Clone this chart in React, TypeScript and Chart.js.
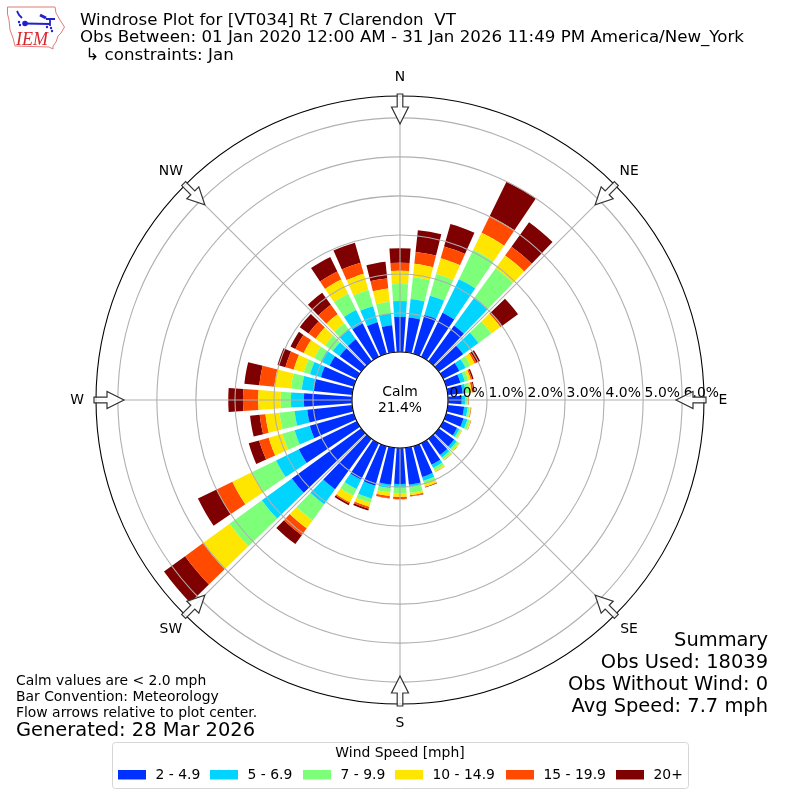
import React, { useEffect, useRef } from "react";
import { Chart, registerables } from "chart.js";

Chart.register(...registerables);

// Wind speed bins, share of observations (%), for directions 0, 10, ... 350 degrees
const directions = [0, 10, 20, 30, 40, 50, 60, 70, 80, 90, 100, 110, 120, 130, 140, 150, 160, 170, 180, 190, 200, 210, 220, 230, 240, 250, 260, 270, 280, 290, 300, 310, 320, 330, 340, 350];
const bin2to5 = [0.905, 0.897, 1.038, 1.256, 1.128, 0.769, 0.462, 0.379, 0.385, 0.351, 0.421, 0.462, 0.397, 0.487, 0.513, 0.615, 0.821, 0.949, 0.923, 0.949, 1.051, 1.038, 1.6, 2.195, 1.654, 1.174, 1.159, 1.231, 1.0, 0.879, 0.777, 0.679, 0.692, 0.949, 0.844, 0.697];
const bin5to7 = [0.403, 0.474, 0.513, 0.959, 0.887, 0.487, 0.179, 0.121, 0.077, 0.085, 0.092, 0.103, 0.064, 0.077, 0.077, 0.09, 0.103, 0.051, 0.095, 0.09, 0.346, 0.269, 0.474, 0.949, 0.649, 0.405, 0.326, 0.333, 0.3, 0.29, 0.249, 0.223, 0.308, 0.385, 0.428, 0.303];
const bin7to10 = [0.436, 0.559, 0.577, 0.836, 0.926, 0.41, 0.136, 0.09, 0.103, 0.051, 0.051, 0.064, 0.051, 0.064, 0.062, 0.077, 0.09, 0.162, 0.144, 0.115, 0.115, 0.19, 0.51, 1.023, 0.682, 0.326, 0.387, 0.264, 0.277, 0.164, 0.192, 0.244, 0.197, 0.462, 0.431, 0.3];
const bin10to15 = [0.341, 0.349, 0.421, 0.487, 0.408, 0.282, 0.121, 0.064, 0.051, 0.033, 0.026, 0.026, 0.021, 0.023, 0.023, 0.033, 0.064, 0.059, 0.087, 0.09, 0.103, 0.19, 0.251, 0.841, 0.564, 0.364, 0.364, 0.574, 0.428, 0.269, 0.3, 0.297, 0.29, 0.408, 0.431, 0.341];
const bin15to20 = [0.205, 0.305, 0.315, 0.477, 0.279, 0.051, 0.051, 0.038, 0.051, 0.013, 0.013, 0.01, 0.005, 0.005, 0.005, 0.008, 0.013, 0.026, 0.059, 0.059, 0.051, 0.031, 0.215, 0.569, 0.449, 0.256, 0.149, 0.392, 0.39, 0.223, 0.236, 0.223, 0.297, 0.228, 0.297, 0.262];
const bin20plus = [0.369, 0.562, 0.597, 0.98, 0.769, 0.51, 0.103, 0.038, 0.026, 0.005, 0.005, 0.003, 0.003, 0.003, 0.003, 0.003, 0.013, 0.01, 0.005, 0.005, 0.051, 0.051, 0.282, 0.669, 0.533, 0.277, 0.249, 0.377, 0.385, 0.21, 0.138, 0.279, 0.382, 0.415, 0.531, 0.426];

const binLabels = ["2 - 4.9", "5 - 6.9", "7 - 9.9", "10 - 14.9", "15 - 19.9", "20+"];
const binColors = ["#0030ff", "#00d4ff", "#7dff7a", "#ffe600", "#ff4a00", "#7f0000"];
const bins = [bin2to5, bin5to7, bin7to10, bin10to15, bin15to20, bin20plus];

const rTicks = [0, 1, 2, 3, 4, 5, 6];
const compass = ["N", "NE", "E", "SE", "S", "SW", "W", "NW"];
const titleLines = ["Windrose Plot for [VT034] Rt 7 Clarendon  VT", "Obs Between: 01 Jan 2020 12:00 AM - 31 Jan 2026 11:49 PM America/New_York", " ↳ constraints: Jan"];
const summaryLines = ["Summary", "Obs Used: 18039", "Obs Without Wind: 0", "Avg Speed: 7.7 mph"];
const noteLines = ["Calm values are < 2.0 mph", "Bar Convention: Meteorology", "Flow arrows relative to plot center."];

const FONT = '"DejaVu Sans"';
const RAD = Math.PI / 180;
const BAR_GAP = 1; // degrees trimmed from each side of a bar

function cumulative(): number[][] {
  const out: number[][] = [];
  bins.forEach((b, i) => {
    out.push(b.map((v, j) => (i === 0 ? v : out[i - 1][j] + v)));
  });
  return out;
}

function drawLogo(ctx: CanvasRenderingContext2D) {
  ctx.save();
  ctx.strokeStyle = "#e07a7a";
  ctx.lineWidth = 1;
  ctx.beginPath();
  const outline = [[7.5, 7], [55, 7], [56, 13], [60, 20], [64.5, 27], [61, 33], [58, 36], [56, 42], [53, 46], [53, 49], [49, 47], [15, 46], [13, 38], [10, 30], [9, 20], [7.5, 14]];
  outline.forEach((p, i) => (i === 0 ? ctx.moveTo(p[0], p[1]) : ctx.lineTo(p[0], p[1])));
  ctx.closePath();
  ctx.stroke();
  ctx.strokeStyle = "#2222cc";
  ctx.fillStyle = "#2222cc";
  ctx.lineWidth = 1.8;
  ctx.beginPath();
  ctx.moveTo(25, 23.5);
  ctx.lineTo(50, 24);
  ctx.moveTo(50, 19);
  ctx.lineTo(50, 26);
  ctx.moveTo(46, 19);
  ctx.lineTo(55, 19);
  ctx.moveTo(17, 11);
  ctx.lineTo(19, 15);
  ctx.lineTo(22, 18);
  ctx.stroke();
  ctx.lineWidth = 3;
  ctx.beginPath();
  ctx.moveTo(40, 15);
  ctx.lineTo(46, 18);
  ctx.stroke();
  ctx.beginPath();
  ctx.arc(25, 23.5, 2.8, 0, Math.PI * 2);
  ctx.fill();
  [[20, 25], [19, 22], [51, 28], [47, 27], [52, 31]].forEach((p) => {
    ctx.beginPath();
    ctx.arc(p[0], p[1], 1.2, 0, Math.PI * 2);
    ctx.fill();
  });
  ctx.fillStyle = "#d9262c";
  ctx.font = 'italic 18px "Liberation Serif"';
  ctx.textAlign = "left";
  ctx.textBaseline = "alphabetic";
  ctx.fillText("IEM", 16, 44.5);
  ctx.restore();
}

function drawArrow(ctx: CanvasRenderingContext2D, cx: number, cy: number, angle: number) {
  // drawn in a frame whose -y axis is the compass direction
  ctx.save();
  ctx.translate(cx, cy);
  ctx.rotate(angle);
  ctx.beginPath();
  ctx.moveTo(-2.8, -306);
  ctx.lineTo(2.8, -306);
  ctx.lineTo(2.8, -293);
  ctx.lineTo(8.5, -293);
  ctx.lineTo(0, -276);
  ctx.lineTo(-8.5, -293);
  ctx.lineTo(-2.8, -293);
  ctx.closePath();
  ctx.fillStyle = "rgba(255,255,255,0.85)";
  ctx.fill();
  ctx.strokeStyle = "#333333";
  ctx.lineWidth = 1.2;
  ctx.stroke();
  ctx.restore();
}

const roseStack = {
  id: "roseStack",
  afterDatasetsUpdate(chart: any) {
    const scale = chart.scales.r;
    const base = scale.getDistanceFromCenterForValue(0);
    let prev: number[] | null = null;
    chart.data.datasets.forEach((_: any, i: number) => {
      const arcs = chart.getDatasetMeta(i).data;
      const outers: number[] = [];
      arcs.forEach((arc: any, j: number) => {
        arc.startAngle += BAR_GAP * RAD;
        arc.endAngle -= BAR_GAP * RAD;
        arc.innerRadius = prev ? prev[j] : base;
        outers.push(arc.outerRadius);
      });
      prev = outers;
    });
  },
  afterDatasetsDraw(chart: any) {
    const { ctx } = chart;
    const scale = chart.scales.r;
    const outer = scale.getDistanceFromCenterForValue(scale.max);
    const inner = scale.getDistanceFromCenterForValue(0);
    ctx.save();
    ctx.strokeStyle = "#b0b0b0";
    ctx.lineWidth = 1.1;
    compass.forEach((_, i) => {
      const a = i * 45 * RAD;
      ctx.beginPath();
      ctx.moveTo(scale.xCenter + inner * Math.sin(a), scale.yCenter - inner * Math.cos(a));
      ctx.lineTo(scale.xCenter + outer * Math.sin(a), scale.yCenter - outer * Math.cos(a));
      ctx.stroke();
    });
    ctx.restore();
  },
  afterDraw(chart: any) {
    const { ctx } = chart;
    const scale = chart.scales.r;
    const cx = scale.xCenter;
    const cy = scale.yCenter;
    const outer = scale.getDistanceFromCenterForValue(scale.max);
    const inner = scale.getDistanceFromCenterForValue(0);
    ctx.save();

    // centre hole and frame
    ctx.beginPath();
    ctx.arc(cx, cy, inner, 0, Math.PI * 2);
    ctx.fillStyle = "#ffffff";
    ctx.fill();
    ctx.strokeStyle = "#000000";
    ctx.lineWidth = 1.1;
    ctx.stroke();
    ctx.beginPath();
    ctx.arc(cx, cy, outer, 0, Math.PI * 2);
    ctx.stroke();

    // radial tick labels along the E axis
    ctx.fillStyle = "#000000";
    ctx.font = `13.9px ${FONT}`;
    ctx.textAlign = "left";
    ctx.textBaseline = "alphabetic";
    rTicks.forEach((t) => {
      ctx.fillText(`${t.toFixed(1)}%`, cx + scale.getDistanceFromCenterForValue(t) + 1.5, cy - 3);
    });

    // arrows and compass labels
    compass.forEach((c, i) => {
      const a = i * 45 * RAD;
      drawArrow(ctx, cx, cy, a);
      const d = i % 2 === 0 ? 323 : 324;
      ctx.fillStyle = "#000000";
      ctx.font = `13.9px ${FONT}`;
      ctx.textAlign = "center";
      ctx.textBaseline = "middle";
      ctx.fillText(c, cx + d * Math.sin(a), cy - d * Math.cos(a));
    });

    // calm
    ctx.font = `13.9px ${FONT}`;
    ctx.textAlign = "center";
    ctx.textBaseline = "middle";
    ctx.fillText("Calm", cx, cy - 7.5);
    ctx.fillText("21.4%", cx, cy + 8);

    // titles
    ctx.textAlign = "left";
    ctx.textBaseline = "middle";
    ctx.font = `16.67px ${FONT}`;
    titleLines.forEach((t, i) => ctx.fillText(t, 80, 20.5 + i * 17.5));

    // bottom-left notes
    ctx.font = `13.9px ${FONT}`;
    noteLines.forEach((t, i) => ctx.fillText(t, 16, 681 + i * 16));
    ctx.font = `19.44px ${FONT}`;
    ctx.fillText("Generated: 28 Mar 2026", 16, 730.5);

    // summary
    ctx.textAlign = "right";
    ctx.font = `19.44px ${FONT}`;
    summaryLines.forEach((t, i) => ctx.fillText(t, 768, 641 + i * 22));

    // legend
    ctx.beginPath();
    ctx.roundRect(112.5, 742.5, 576, 46, 3);
    ctx.fillStyle = "#ffffff";
    ctx.fill();
    ctx.strokeStyle = "#d6d6d6";
    ctx.lineWidth = 1;
    ctx.stroke();
    ctx.fillStyle = "#000000";
    ctx.textAlign = "center";
    ctx.font = `13.9px ${FONT}`;
    ctx.fillText("Wind Speed [mph]", 400, 753);
    const swatchX = [118, 210, 303, 395, 506, 616];
    ctx.textAlign = "left";
    ctx.font = `13.9px ${FONT}`;
    binLabels.forEach((label, i) => {
      ctx.fillStyle = binColors[i];
      ctx.fillRect(swatchX[i], 770, 28, 9.5);
      ctx.fillStyle = "#000000";
      ctx.fillText(label, swatchX[i] + 37.5, 775);
    });

    drawLogo(ctx);
    ctx.restore();
  },
};

export default function App() {
  const ref = useRef<HTMLCanvasElement>(null);
  useEffect(() => {
    const cum = cumulative();
    const chart = new Chart(ref.current as HTMLCanvasElement, {
      type: "polarArea",
      data: {
        labels: directions.map(String),
        datasets: binLabels.map((label, i) => ({
          label,
          data: cum[i],
          backgroundColor: binColors[i],
          borderWidth: 0,
        })),
      },
      options: {
        responsive: false,
        animation: false,
        devicePixelRatio: 1,
        layout: { padding: 96 },
        plugins: { legend: { display: false }, tooltip: { enabled: false } },
        scales: {
          r: {
            min: -1.23,
            max: 6.56,
            startAngle: -5,
            afterBuildTicks: (axis: any) => {
              axis.ticks = rTicks.map((value) => ({ value }));
            },
            ticks: { display: false },
            grid: { color: "#b0b0b0", lineWidth: 1.1, z: 1 },
            angleLines: { display: false },
            pointLabels: { display: false },
          },
        },
      },
      plugins: [roseStack],
    } as any);
    return () => chart.destroy();
  }, []);
  return (
    <div style={{ position: "absolute", left: 0, top: 0, width: 800, height: 800, background: "#fff" }}>
      <canvas ref={ref} width={800} height={800} style={{ display: "block" }} />
    </div>
  );
}
